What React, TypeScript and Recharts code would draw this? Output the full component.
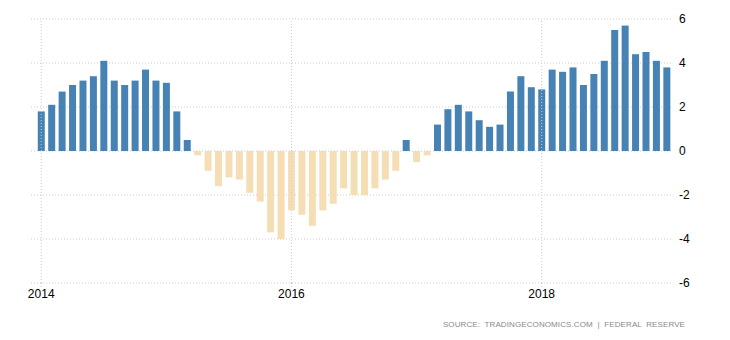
import { BarChart, Bar, Cell, XAxis, YAxis, CartesianGrid, ReferenceLine } from "recharts"

const months = [
  "2014-01", "2014-02", "2014-03", "2014-04", "2014-05", "2014-06", "2014-07", "2014-08", "2014-09", "2014-10", "2014-11", "2014-12",
  "2015-01", "2015-02", "2015-03", "2015-04", "2015-05", "2015-06", "2015-07", "2015-08", "2015-09", "2015-10", "2015-11", "2015-12",
  "2016-01", "2016-02", "2016-03", "2016-04", "2016-05", "2016-06", "2016-07", "2016-08", "2016-09", "2016-10", "2016-11", "2016-12",
  "2017-01", "2017-02", "2017-03", "2017-04", "2017-05", "2017-06", "2017-07", "2017-08", "2017-09", "2017-10", "2017-11", "2017-12",
  "2018-01", "2018-02", "2018-03", "2018-04", "2018-05", "2018-06", "2018-07", "2018-08", "2018-09", "2018-10", "2018-11", "2018-12",
  "2019-01",
]

const growth = [
  1.8, 2.1, 2.7, 3.0, 3.2, 3.4, 4.1, 3.2, 3.0, 3.2, 3.7, 3.2,
  3.1, 1.8, 0.5, -0.2, -0.9, -1.6, -1.2, -1.3, -1.9, -2.3, -3.7, -4.0,
  -2.7, -2.9, -3.4, -2.7, -2.4, -1.7, -2.0, -2.0, -1.7, -1.3, -0.9, 0.5,
  -0.5, -0.2, 1.2, 1.9, 2.1, 1.8, 1.4, 1.1, 1.2, 2.7, 3.4, 2.9,
  2.8, 3.7, 3.6, 3.8, 3.0, 3.5, 4.1, 5.5, 5.7, 4.4, 4.5, 4.1,
  3.8,
]

const yearTicks = ["2014-01", "2016-01", "2018-01"]
const yTicks = [-6, -4, -2, 0, 2, 4, 6]

const data = months.map((m, i) => ({ month: m, value: growth[i] }))

const gridColor = "#cccccc"

export default function App() {
  return (
    <div style={{ position: "absolute", left: 0, top: 0, width: 730, height: 340, background: "#fff" }}>
      <BarChart
        width={730}
        height={340}
        data={data}
        margin={{ top: 19, right: 0, bottom: 27, left: 31 }}
        barCategoryGap="17%"
      >
        <CartesianGrid vertical={false} stroke={gridColor} strokeDasharray="1 2" />
        {yearTicks.map((t) => (
          <ReferenceLine key={t} x={t} stroke={gridColor} strokeDasharray="1 2" />
        ))}
        <XAxis
          dataKey="month"
          interval={23}
          padding={{ left: 5, right: 0 }}
          axisLine={false}
          tickLine={{ stroke: gridColor, strokeDasharray: "1 2" }}
          tickSize={4}
          tickMargin={2}
          height={30}
          tickFormatter={(v: string) => v.slice(0, 4)}
          tick={{ fontSize: 12, fill: "#000", fontFamily: "Liberation Sans, Arial, sans-serif" }}
        />
        <YAxis
          orientation="right"
          domain={[-6, 6]}
          ticks={yTicks}
          axisLine={false}
          tickLine={false}
          tickSize={0}
          tickMargin={7}
          width={58}
          tick={{ fontSize: 12, fill: "#000", fontFamily: "Liberation Sans, Arial, sans-serif", textAnchor: "start" }}
        />
        <Bar dataKey="value" isAnimationActive={false}>
          {data.map((d) => (
            <Cell key={d.month} fill={d.value >= 0 ? "#4682b4" : "#f5deb3"} />
          ))}
        </Bar>
      </BarChart>
      <div
        style={{
          position: "absolute",
          right: 45,
          top: 320,
          fontFamily: "Liberation Sans, Arial, sans-serif",
          fontSize: 8,
          color: "#8a8a8a",
          whiteSpace: "pre",
          letterSpacing: 0.1,
        }}
      >
        SOURCE:  TRADINGECONOMICS.COM  |  FEDERAL  RESERVE
      </div>
    </div>
  )
}
